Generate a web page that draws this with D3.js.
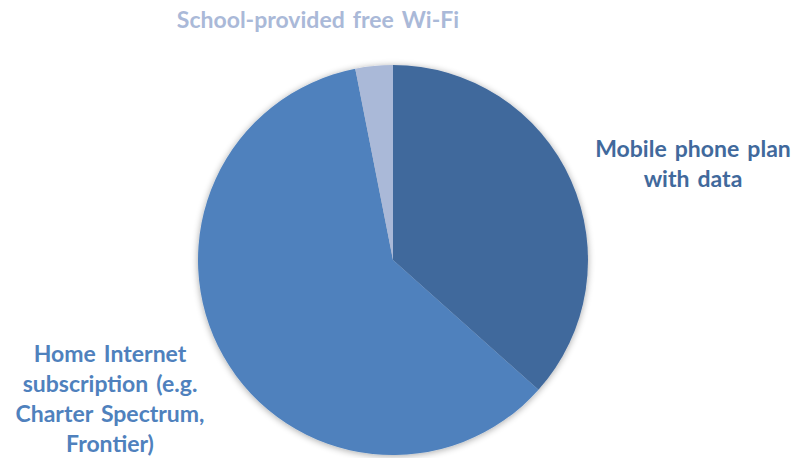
<!DOCTYPE html>
<html>
<head>
<meta charset="utf-8">
<script src="https://cdn.jsdelivr.net/npm/d3@7"></script>
<style>
  html, body { margin: 0; padding: 0; background: #fff; }
  svg { display: block; }
  text { font-family: "Lato", "Open Sans", sans-serif; font-weight: 700; }
</style>
</head>
<body>
<svg id="chart" width="802" height="458"></svg>
<script>
// Internet access type shares (percent)
const categories = ["Mobile phone plan with data", "Home Internet subscription (e.g. Charter Spectrum, Frontier)", "School-provided free Wi-Fi"];
const values = [36.6, 60.3, 3.1];
const colors = ["#41699C", "#4F81BD", "#AAB9D8"];
const labelLines = [
  ["Mobile phone plan", "with data"],
  ["Home Internet", "subscription (e.g.", "Charter Spectrum,", "Frontier)"],
  ["School-provided free Wi-Fi"]
];

const svg = d3.select("#chart");
const cx = 393, cy = 260, r = 195;

const defs = svg.append("defs");
const f = defs.append("filter").attr("id", "shadow")
  .attr("x", "-20%").attr("y", "-20%").attr("width", "140%").attr("height", "140%");
f.append("feGaussianBlur").attr("in", "SourceAlpha").attr("stdDeviation", 3.5).attr("result", "b");
f.append("feOffset").attr("in", "b").attr("dx", 0).attr("dy", 1).attr("result", "o");
f.append("feComponentTransfer").attr("in", "o").attr("result", "s")
  .append("feFuncA").attr("type", "linear").attr("slope", 0.35);
const m = f.append("feMerge");
m.append("feMergeNode").attr("in", "s");
m.append("feMergeNode").attr("in", "SourceGraphic");

const data = categories.map((c, i) => ({ name: c, value: values[i], color: colors[i], lines: labelLines[i] }));
const pie = d3.pie().sort(null).value(d => d.value);
const arc = d3.arc().innerRadius(0).outerRadius(r);

const g = svg.append("g").attr("transform", `translate(${cx},${cy})`);
g.append("g").attr("filter", "url(#shadow)")
  .selectAll("path").data(pie(data)).join("path")
  .attr("d", arc)
  .attr("fill", d => d.data.color);

// Label blocks: centre x and first baseline
const labelPos = [
  { x: 693, y: 157, lh: 30 },
  { x: 110, y: 362, lh: 30 },
  { x: 318, y: 28, lh: 30 }
];

data.forEach((d, i) => {
  const p = labelPos[i];
  const t = svg.append("text")
    .attr("text-anchor", "middle")
    .attr("fill", d.color)
    .attr("font-size", 23)
    .attr("word-spacing", 2.5);
  d.lines.forEach((ln, j) => {
    t.append("tspan").attr("x", p.x).attr("y", p.y + j * p.lh).text(ln);
  });
});
</script>
</body>
</html>
